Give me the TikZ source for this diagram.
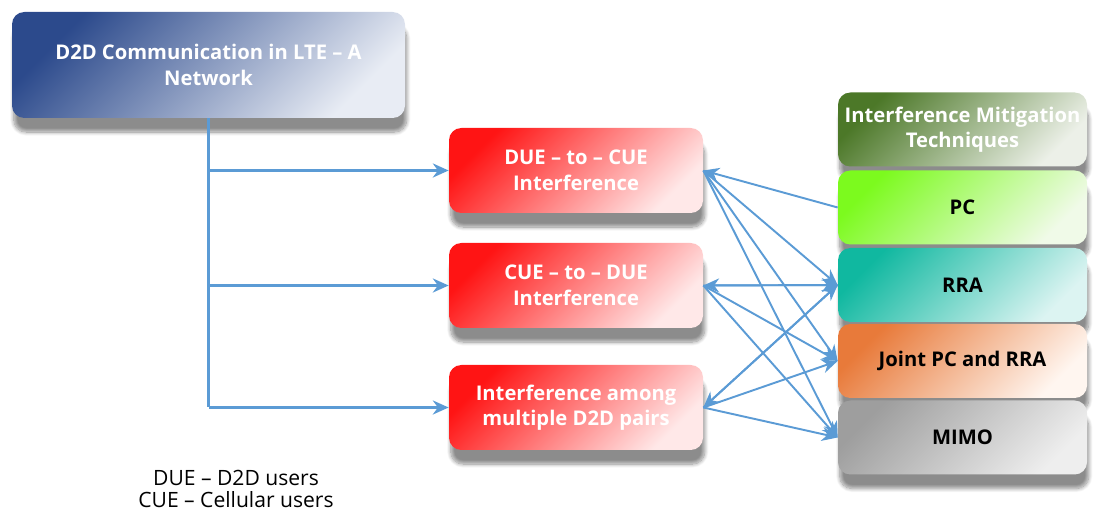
\documentclass[tikz,border=0pt]{standalone}
\usepackage{fontspec}
\setmainfont{Open Sans}
\usetikzlibrary{shadows.blur,arrows.meta}

\definecolor{linkblue}{RGB}{91,155,213}
\definecolor{navy}{RGB}{44,74,140}
\definecolor{paleblue}{RGB}{232,236,244}
\definecolor{boxred}{RGB}{255,20,20}
\definecolor{palered}{RGB}{255,232,232}
\definecolor{darkgreen}{RGB}{76,120,40}
\definecolor{palegreen}{RGB}{236,240,232}
\definecolor{lime}{RGB}{124,250,30}
\definecolor{palelime}{RGB}{240,250,232}
\definecolor{teal}{RGB}{16,184,160}
\definecolor{paleteal}{RGB}{220,244,242}
\definecolor{orange}{RGB}{232,122,58}
\definecolor{paleorange}{RGB}{255,246,240}
\definecolor{midgray}{RGB}{158,158,158}
\definecolor{palegray}{RGB}{238,238,238}

\begin{document}
\begin{tikzpicture}[
    box/.style={rounded corners=7pt, align=center, inner sep=0pt,
        font=\bfseries\fontsize{11.5}{14.5}\selectfont,
        blur shadow={shadow xshift=1pt, shadow yshift=-8pt, shadow opacity=45, shadow blur steps=10}},
    grad/.style 2 args={top color=#1, bottom color=#2, shading angle=45},
    tip/.style={-{Stealth[length=9pt, width=8pt]}},
    trunk/.style={draw=linkblue, line width=1.6pt},
    link/.style={draw=linkblue, line width=1.1pt}
]
    \useasboundingbox (0,0) rectangle (21.86,10.28);

    % left and middle column
    \node[box, grad={navy}{paleblue}, text=white, minimum width=7.86cm, minimum height=2.12cm]
        (top) at (4.17, 8.98) {D2D Communication in LTE -- A\\Network};
    \node[box, grad={boxred}{palered}, text=white, minimum width=5.08cm, minimum height=1.7cm]
        (due) at (11.52, 6.87) {DUE -- to -- CUE\\Interference};
    \node[box, grad={boxred}{palered}, text=white, minimum width=5.08cm, minimum height=1.7cm]
        (cue) at (11.52, 4.57) {CUE -- to -- DUE\\Interference};
    \node[box, grad={boxred}{palered}, text=white, minimum width=5.08cm, minimum height=1.7cm]
        (multi) at (11.52, 2.13) {Interference among\\multiple D2D pairs};

    % right column
    \node[box, grad={darkgreen}{palegreen}, text=white, minimum width=4.98cm, minimum height=1.48cm]
        (imt) at (19.25, 7.69) {Interference Mitigation\\Techniques};
    \node[box, grad={lime}{palelime}, minimum width=4.98cm, minimum height=1.48cm]
        (pc) at (19.25, 6.13) {PC};
    \node[box, grad={teal}{paleteal}, minimum width=4.98cm, minimum height=1.48cm]
        (rra) at (19.25, 4.58) {RRA};
    \node[box, grad={orange}{paleorange}, minimum width=4.98cm, minimum height=1.48cm]
        (joint) at (19.25, 3.06) {Joint PC and RRA};
    \node[box, grad={midgray}{palegray}, minimum width=4.98cm, minimum height=1.48cm]
        (mimo) at (19.25, 1.53) {MIMO};

    \node[align=center, font=\fontsize{12}{12.5}\selectfont] (legend) at (4.72, 0.50)
        {DUE -- D2D users\\CUE -- Cellular users};

    \draw[trunk] (top.south) -- (top.south |- multi.west);
    \foreach \n in {due,cue,multi}
        \draw[trunk, tip] (top.south |- \n.west) -- (\n.west);

    \draw[link, tip] (pc.west) -- (due.east);
    \draw[link, tip] (due.east) -- (rra.west);
    \draw[link, tip] (rra.west) -- (cue.east);
    \draw[link, tip] (cue.east) -- (rra.west);
    \draw[link, tip] (rra.west) -- (multi.east);
    \draw[link, tip] (multi.east) -- (rra.west);
    \foreach \a in {due,cue,multi}
        \foreach \b in {joint,mimo}
            \draw[link, tip] (\a.east) -- (\b.west);
\end{tikzpicture}
\end{document}
